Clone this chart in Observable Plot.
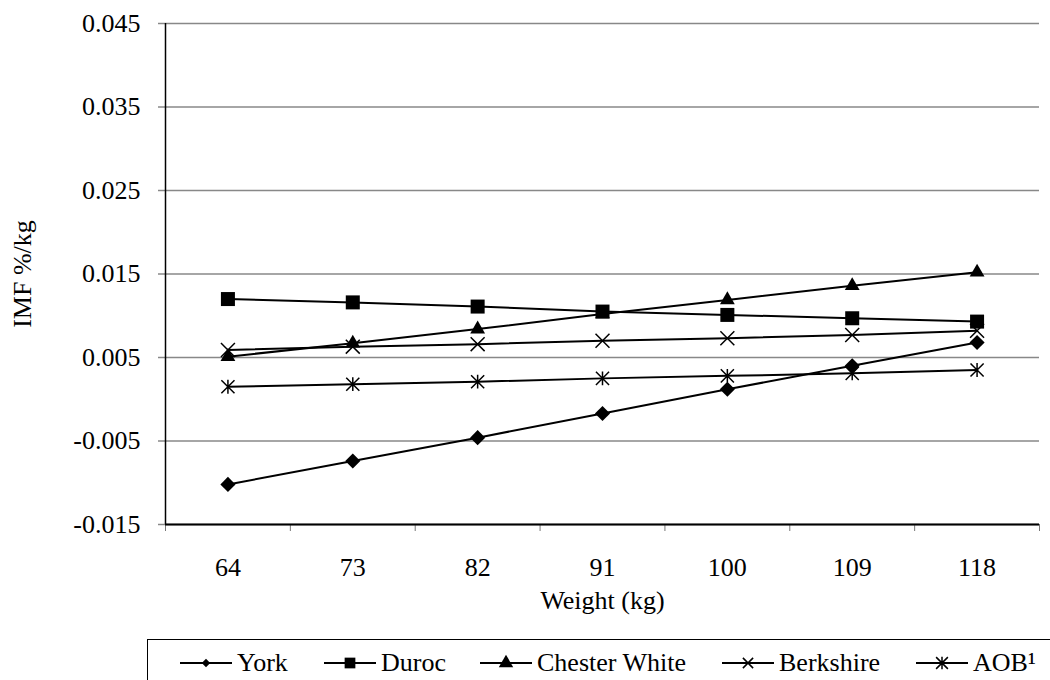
<!DOCTYPE html>
<html><head><meta charset="utf-8">
<script src="https://cdn.jsdelivr.net/npm/d3@7"></script>
<script src="https://cdn.jsdelivr.net/npm/@observablehq/plot@0.6"></script>
<style>
body{margin:0;background:#fff;font-family:"Liberation Serif","Times New Roman",serif;}
#wrap{position:relative;width:1050px;height:680px;overflow:hidden;background:#fff;}
#legend{position:absolute;left:147px;top:639px;width:910px;height:60px;border:1.5px solid #000;box-sizing:border-box;font-size:26px;color:#000;}
.item{position:absolute;top:8px;display:flex;align-items:center;white-space:nowrap;}
.item svg{margin-right:5px;}
</style>
</head><body>
<div id="wrap"><div id="chart"></div><div id="legend"></div></div>
<script>
const weights = [64, 73, 82, 91, 100, 109, 118];
const breeds = ["York", "Duroc", "Chester White", "Berkshire", "AOB¹"];
const york = [-0.0102, -0.0074, -0.0046, -0.0017, 0.0012, 0.0040, 0.0068];
const duroc = [0.0120, 0.0116, 0.0111, 0.0105, 0.0101, 0.0097, 0.0093];
const chesterWhite = [0.0051, 0.0067, 0.0084, 0.0102, 0.0119, 0.0136, 0.0152];
const berkshire = [0.0059, 0.0063, 0.0066, 0.0070, 0.0073, 0.0077, 0.0082];
const aob = [0.0015, 0.0018, 0.0021, 0.0025, 0.0028, 0.0031, 0.0035];
const yTicks = [-0.015, -0.005, 0.005, 0.015, 0.025, 0.035, 0.045];

// Excel-style star marker: an "x" with a vertical stroke through it
const starSymbol = {
  draw(context, size) {
    const r = Math.sqrt(size) * 0.59;
    const d = r * 0.95;
    context.moveTo(0, -r); context.lineTo(0, r);
    context.moveTo(-d, -d); context.lineTo(d, d);
    context.moveTo(-d, d); context.lineTo(d, -d);
  }
};

const seriesValues = [york, duroc, chesterWhite, berkshire, aob];
const symbols = ["diamond2", "square", "triangle", "times", starSymbol];
const filled = [true, true, true, false, false];
const radii = [6.8, 7.9, 5.5, 6.4, 6.6];
const legendSizes = [45, 115, 90, 70, 110];
const legendLeft = [32, 176, 332, 574, 768];

const step = weights[1] - weights[0];
const xDomain = [weights[0] - step / 2, weights[weights.length - 1] + step / 2];
const yDomain = [yTicks[0], yTicks[yTicks.length - 1]];
const boundaries = weights.map(w => w - step / 2).concat([xDomain[1]]);
const fmtY = d => d3.format(".3f")(d).replace("\u2212", "-");

const marks = [
  Plot.gridY(yTicks, {stroke: "#888", strokeOpacity: 1, strokeWidth: 1.5}),
  Plot.axisY(yTicks, {tickSize: 7, tickPadding: 18, tickFormat: fmtY, stroke: "#888", strokeWidth: 1.5, fill: "black",
    label: "IMF %/kg", labelAnchor: "center", labelOffset: 153, labelArrow: "none"}),
  Plot.axisX(boundaries, {tickSize: 7, tickFormat: () => "", stroke: "#777", strokeWidth: 1, label: null}),
  Plot.axisX(weights, {tickSize: 0, tickPadding: 33, tickFormat: d => String(d), fill: "black",
    label: "Weight (kg)", labelAnchor: "center", labelOffset: 84, labelArrow: "none"}),
  Plot.ruleX([xDomain[0]], {stroke: "black", strokeWidth: 1.5}),
  Plot.ruleY([yDomain[0]], {stroke: "black", strokeWidth: 2})
];

breeds.forEach((b, k) => {
  const rows = weights.map((w, i) => ({breed: b, weight: w, value: seriesValues[k][i]}));
  marks.push(Plot.line(rows, {x: "weight", y: "value", stroke: "black", strokeWidth: 2}));
  marks.push(Plot.dot(rows, filled[k]
    ? {x: "weight", y: "value", symbol: symbols[k], r: radii[k], fill: "black", stroke: "none"}
    : {x: "weight", y: "value", symbol: symbols[k], r: radii[k], fill: "none", stroke: "black", strokeWidth: 1.5}));
});

const chart = Plot.plot({
  width: 1050, height: 630,
  marginLeft: 165, marginRight: 11, marginTop: 23, marginBottom: 106,
  style: {fontFamily: "'Liberation Serif', 'Times New Roman', serif", fontSize: "26px", color: "black", background: "white", overflow: "visible"},
  x: {type: "linear", domain: xDomain},
  y: {type: "linear", domain: yDomain},
  marks
});
document.getElementById("chart").appendChild(chart);

const symMap = {diamond2: d3.symbolDiamond2, square: d3.symbolSquare, triangle: d3.symbolTriangle, times: d3.symbolTimes};
const legend = d3.select("#legend");
breeds.forEach((b, k) => {
  const item = legend.append("div").attr("class", "item").style("left", legendLeft[k] + "px");
  const svg = item.append("svg").attr("width", 52).attr("height", 20);
  svg.append("line").attr("x1", 0).attr("x2", 52).attr("y1", 10).attr("y2", 10).attr("stroke", "black").attr("stroke-width", 2);
  const sym = typeof symbols[k] === "string" ? symMap[symbols[k]] : symbols[k];
  svg.append("path").attr("transform", "translate(26,10)")
    .attr("d", d3.symbol(sym, legendSizes[k])())
    .attr("fill", filled[k] ? "black" : "none")
    .attr("stroke", filled[k] ? "none" : "black")
    .attr("stroke-width", 1.5);
  item.append("span").text(b);
});
</script>
</body></html>
